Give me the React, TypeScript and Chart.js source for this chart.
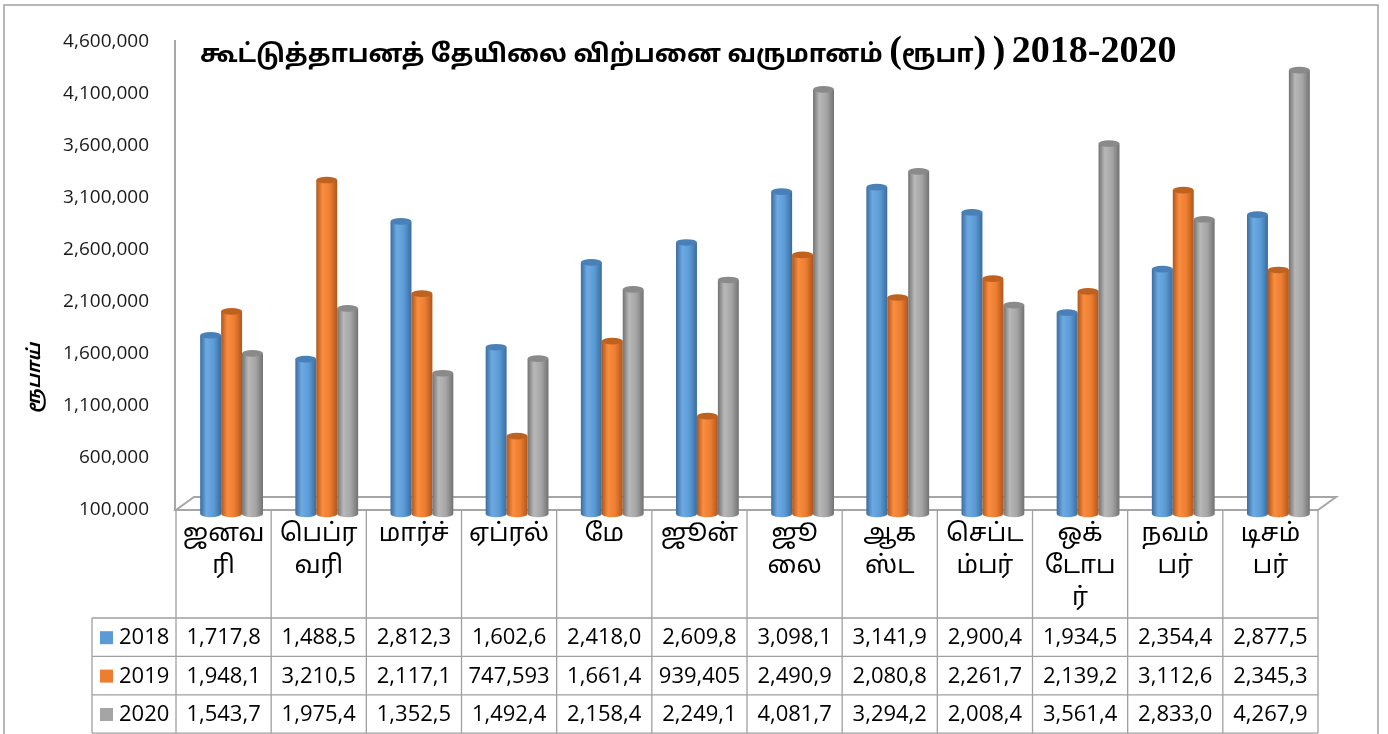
import React, { useEffect, useRef } from 'react';
import { Chart, registerables } from 'chart.js';

Chart.register(...registerables);

// ---- data ----
const titleText = 'கூட்டுத்தாபனத் தேயிலை விற்பனை வருமானம் (ரூபா) ) 2018-2020';
const yAxisTitle = 'ரூபாய்';
const categoryLines: string[][] = [
  ['ஜனவ', 'ரி'],
  ['பெப்ர', 'வரி'],
  ['மார்ச்'],
  ['ஏப்ரல்'],
  ['மே'],
  ['ஜூன்'],
  ['ஜூ', 'லை'],
  ['ஆக', 'ஸ்ட'],
  ['செப்ட', 'ம்பர்'],
  ['ஒக்', 'டோப', 'ர்'],
  ['நவம்', 'பர்'],
  ['டிசம்', 'பர்'],
];
const seriesNames = ['2018', '2019', '2020'];
const values2018 = [1717800, 1488500, 2812300, 1602600, 2418000, 2609800, 3098100, 3141900, 2900400, 1934500, 2354400, 2877500];
const values2019 = [1948100, 3210500, 2117100, 747593, 1661400, 939405, 2490900, 2080800, 2261700, 2139200, 3112600, 2345300];
const values2020 = [1543700, 1975400, 1352500, 1492400, 2158400, 2249100, 4081700, 3294200, 2008400, 3561400, 2833000, 4267900];
const yMin = 100000;
const yMax = 4600000;
const yStep = 500000;

// ---- styles ----
const seriesColors = ['#5B9BD5', '#ED7D31', '#A5A5A5'];
const shades = [
  { dark: '#3A6C9E', light: '#6DAAE2', mid: '#5B9BD5', cap: '#4A80B8' },
  { dark: '#B0571A', light: '#F98D40', mid: '#ED7D31', cap: '#C0621F' },
  { dark: '#727272', light: '#B8B8B8', mid: '#A5A5A5', cap: '#8A8A8A' },
];
const TAMIL = '"Noto Sans Tamil", "Lohit Tamil", "Latha", "Noto Sans", sans-serif';
const NUM = '"Open Sans", "Noto Sans", sans-serif';
const LINE = '#A6A6A6';
const DEPTH_X = 18;
const DEPTH_Y = -13;

const fmt = (v: number) => v.toLocaleString('en-US');
const isTamil = (ch: string) => /[\u0B80-\u0BFF ]/.test(ch);

function drawCylinder(ctx: CanvasRenderingContext2D, cx: number, top: number, base: number, w: number, s: any) {
  const l = cx - w / 2;
  const r = cx + w / 2;
  const ry = w * 0.16;
  const g = ctx.createLinearGradient(l, 0, r, 0);
  g.addColorStop(0, s.dark);
  g.addColorStop(0.3, s.light);
  g.addColorStop(0.65, s.mid);
  g.addColorStop(1, s.dark);
  ctx.fillStyle = g;
  ctx.beginPath();
  ctx.moveTo(l, top);
  ctx.lineTo(l, base);
  ctx.ellipse(cx, base, w / 2, ry, 0, Math.PI, 0, true);
  ctx.lineTo(r, top);
  ctx.closePath();
  ctx.fill();
  ctx.fillStyle = s.cap;
  ctx.beginPath();
  ctx.ellipse(cx, top, w / 2, ry, 0, 0, Math.PI * 2);
  ctx.fill();
}

const decorPlugin = {
  id: 'decor',
  beforeDatasetsDraw(chart: any) {
    const ctx: CanvasRenderingContext2D = chart.ctx;
    const { left, right, top, bottom } = chart.chartArea;
    ctx.save();
    ctx.strokeStyle = LINE;
    ctx.lineWidth = 2;
    ctx.beginPath();
    ctx.moveTo(left, bottom);
    ctx.lineTo(right, bottom);
    ctx.lineTo(right + DEPTH_X, bottom + DEPTH_Y);
    ctx.lineTo(left + DEPTH_X, bottom + DEPTH_Y);
    ctx.closePath();
    ctx.stroke();
    ctx.beginPath();
    ctx.moveTo(left - 1, top - 2);
    ctx.lineTo(left - 1, bottom);
    ctx.stroke();
    chart.data.datasets.forEach((_ds: any, di: number) => {
      const meta = chart.getDatasetMeta(di);
      meta.data.forEach((el: any) => {
        const p = el.getProps(['x', 'y', 'base', 'width'], true);
        drawCylinder(ctx, p.x + DEPTH_X / 2 - 1, p.y + DEPTH_Y / 2, p.base + DEPTH_Y / 2, p.width, shades[di]);
      });
    });
    ctx.restore();
    return false;
  },
  afterDraw(chart: any) {
    const ctx: CanvasRenderingContext2D = chart.ctx;
    const { left, right, bottom } = chart.chartArea;
    const xs = chart.scales.x;
    const n = categoryLines.length;
    const colW = (right - left) / n;
    const headerBottom = 618;
    const rowH = 38.4;
    const legendLeft = 92;
    const tableBottom = headerBottom + rowH * 3;
    ctx.save();
    // outer border
    ctx.strokeStyle = '#A0A0A0';
    ctx.lineWidth = 1.5;
    ctx.strokeRect(4, 5, 1374, 760);

    // title, split into Tamil and Latin runs
    ctx.fillStyle = '#000';
    ctx.textBaseline = 'alphabetic';
    ctx.textAlign = 'left';
    const runs: { t: string; tamil: boolean }[] = [];
    for (const ch of titleText) {
      const tm = isTamil(ch);
      const last = runs[runs.length - 1];
      if (last && last.tamil === tm) last.t += ch;
      else runs.push({ t: ch, tamil: tm });
    }
    let tx = 200;
    runs.forEach((r) => {
      ctx.font = r.tamil ? `bold 25px ${TAMIL}` : 'bold 38px "Liberation Serif", serif';
      ctx.fillText(r.t, tx, 62);
      tx += ctx.measureText(r.t).width;
    });

    // y-axis title
    ctx.save();
    ctx.translate(36, 378);
    ctx.rotate(-Math.PI / 2);
    ctx.textAlign = 'center';
    ctx.textBaseline = 'middle';
    ctx.font = `italic bold 18px ${TAMIL}`;
    ctx.fillText(yAxisTitle, 0, 0);
    ctx.restore();

    // table grid
    ctx.strokeStyle = '#A0A0A0';
    ctx.lineWidth = 1.3;
    ctx.beginPath();
    for (let i = 0; i <= n; i++) {
      const x = left + i * colW;
      ctx.moveTo(x, bottom);
      ctx.lineTo(x, tableBottom);
    }
    ctx.moveTo(legendLeft, headerBottom);
    ctx.lineTo(legendLeft, tableBottom);
    for (let r = 0; r <= 3; r++) {
      const y = headerBottom + r * rowH;
      ctx.moveTo(legendLeft, y);
      ctx.lineTo(right, y);
    }
    ctx.stroke();

    // header labels
    ctx.fillStyle = '#000';
    ctx.textAlign = 'center';
    ctx.textBaseline = 'middle';
    ctx.font = `25px ${TAMIL}`;
    categoryLines.forEach((lines, i) => {
      const cx = xs.getPixelForValue(i);
      lines.forEach((t, k) => ctx.fillText(t, cx, 536 + k * 32));
    });

    // values (clipped to the cell width like the original data table)
    const all = [values2018, values2019, values2020];
    ctx.font = `22px ${NUM}`;
    const maxW = colW - 10;
    all.forEach((vals, r) => {
      const cy = headerBottom + r * rowH + rowH / 2 + 1;
      vals.forEach((v, i) => {
        let t = fmt(v);
        while (t.length > 1 && ctx.measureText(t).width > maxW) t = t.slice(0, -1);
        ctx.fillText(t, xs.getPixelForValue(i), cy);
      });
      ctx.fillStyle = seriesColors[r];
      ctx.fillRect(100, cy - 7, 13, 13);
      ctx.fillStyle = '#000';
      ctx.textAlign = 'left';
      ctx.fillText(seriesNames[r], 119, cy);
      ctx.textAlign = 'center';
    });
    ctx.restore();
  },
};

export default function App() {
  const ref = useRef<HTMLCanvasElement | null>(null);
  useEffect(() => {
    document.body.style.margin = '0';
    const canvas = ref.current!;
    const chart = new Chart(canvas, {
      type: 'bar',
      data: {
        labels: categoryLines.map((l) => l.join('')),
        datasets: [values2018, values2019, values2020].map((d, i) => ({
          label: seriesNames[i],
          data: d,
          backgroundColor: seriesColors[i],
          categoryPercentage: 0.66,
          barPercentage: 1.0,
        })),
      },
      options: {
        animation: false,
        responsive: false,
        devicePixelRatio: 1,
        layout: { padding: { left: 0, top: 42, right: 70, bottom: 224 } },
        plugins: { legend: { display: false }, tooltip: { enabled: false }, title: { display: false } },
        scales: {
          x: { display: false, offset: true },
          y: {
            min: yMin,
            max: yMax,
            afterFit: (s: any) => { s.width = 176; },
            grid: { display: false, drawTicks: false },
            border: { display: false },
            ticks: {
              stepSize: yStep,
              padding: 27,
              color: '#1a1a1a',
              font: { family: NUM, size: 19 },
              callback: (v: any) => fmt(Number(v)),
            },
          },
        },
      },
      plugins: [decorPlugin],
    });
    return () => chart.destroy();
  }, []);
  return (
    <div style={{ width: 1388, height: 734, background: '#fff' }}>
      <canvas ref={ref} width={1388} height={734} style={{ display: 'block' }} />
    </div>
  );
}
